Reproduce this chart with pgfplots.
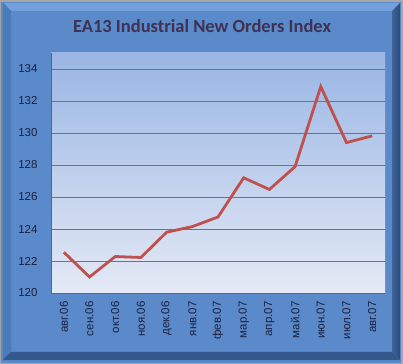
\documentclass[border=0pt]{standalone}
\usepackage{pgfplots}
\pgfplotsset{compat=1.18}
\usepackage{fontspec}
\setmainfont{Liberation Sans}
\newfontfamily\titlefont{Carlito}
\definecolor{bgblue}{HTML}{5A8ACA}
\definecolor{bevtop}{HTML}{73A0DC}
\definecolor{bevleft}{HTML}{4C7BBA}
\definecolor{bevright}{HTML}{2C4A78}
\definecolor{bevbot}{HTML}{34578C}
\definecolor{plottop}{HTML}{9AB6E4}
\definecolor{plotbot}{HTML}{E4E9F5}
\definecolor{linered}{HTML}{C0504D}
\definecolor{titlecol}{HTML}{3F3151}
\definecolor{tickcol}{HTML}{1C1F3C}
\pgfplotstableread{
x y
0 122.55
1 121.0
2 122.28
3 122.22
4 123.8
5 124.15
6 124.75
7 127.2
8 126.47
9 127.9
10 132.9
11 129.4
12 129.82
}\datatable
\begin{document}
\begin{tikzpicture}[x=1bp,y=1bp]
\fill[gray!70] (0,0) rectangle (403,364);
\fill[bgblue] (1,1) rectangle (401,362);
\fill[bevtop] (3,361) -- (400,361) -- (392,353) -- (11,353) -- cycle;
\fill[bevleft] (3,361) -- (11,353) -- (11,12) -- (3,4) -- cycle;
\shade[left color=bevright!60!bgblue, right color=bevright] (400,361) -- (392,353) -- (392,12) -- (400,4) -- cycle;
\fill[bevbot] (3,4) -- (11,12) -- (392,12) -- (400,4) -- cycle;
\node[font=\titlefont\bfseries\fontsize{18.5bp}{21bp}\selectfont, text=titlecol] at (202,338) {EA13 Industrial New Orders Index};
\begin{axis}[
  at={(51bp,71bp)}, anchor=south west,
  scale only axis, width=334bp, height=240bp,
  xmin=-0.5, xmax=12.5, ymin=120, ymax=135,
  axis x line*=bottom, axis y line*=left,
  axis line style={draw=gray!80!black, -},
  axis background/.style={shade, top color=plottop, bottom color=plotbot},
  ytick={120,122,...,134},
  ymajorgrids, grid style={draw=gray!90!black, line width=0.8pt},
  xtick=data,
  xticklabels={авг.06,сен.06,окт.06,ноя.06,дек.06,янв.07,фев.07,мар.07,апр.07,май.07,июн.07,июл.07,авг.07},
  x tick label style={rotate=90, anchor=east, font=\fontsize{11.5bp}{12bp}\selectfont, text=tickcol},
  y tick label style={font=\fontsize{11.5bp}{12bp}\selectfont, text=tickcol},
  /pgf/number format/assume math mode=true,
  major tick length=0pt,
  xticklabel shift=5bp, yticklabel shift=10bp,
  clip=false,
]
\addplot[linered, line width=2.8bp, mark=none, line join=miter] table[x=x,y=y]{\datatable};
\end{axis}
\end{tikzpicture}
\end{document}
